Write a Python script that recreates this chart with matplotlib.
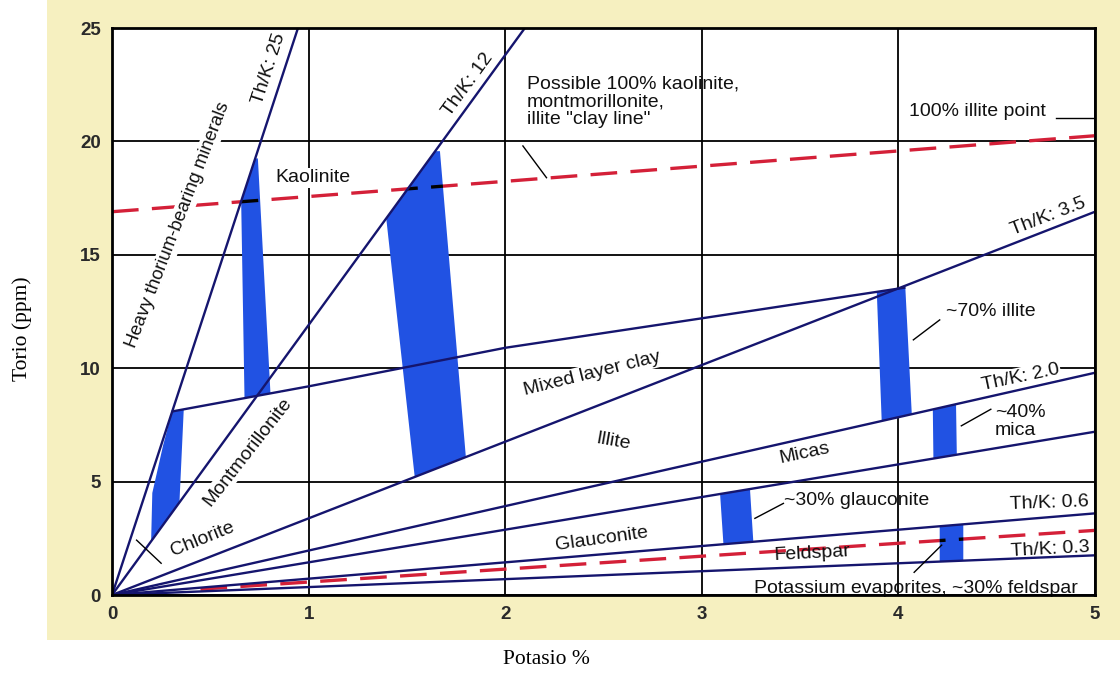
import matplotlib
matplotlib.use('Agg')
import matplotlib.pyplot as plt
from matplotlib.patches import Polygon, Rectangle

plt.rcParams['font.family'] = ['Liberation Sans', 'DejaVu Sans']

# ---------------- data ----------------
x_ticks = [0, 1, 2, 3, 4, 5]
y_ticks = [0, 5, 10, 15, 20, 25]

# Th/K ratio lines from the origin, given by their end points
ratio_end_x = [0.946, 2.10, 5.0, 5.0, 5.0, 5.0, 5.0]
ratio_end_y = [25.0, 25.0, 16.9, 9.8, 7.2, 3.6, 1.75]

# mixed layer clay boundary
mixed_x = [0.31, 1.0, 2.0, 3.0, 4.03]
mixed_y = [8.1, 9.2, 10.9, 12.2, 13.55]

# red dashed lines
clay_line_x = [0.0, 5.0]
clay_line_y = [16.9, 20.25]
feldspar_line_x = [0.45, 5.0]
feldspar_line_y = [0.26, 2.85]

# blue bands
chlorite_x = [0.199, 0.205, 0.26, 0.306, 0.365, 0.343]
chlorite_y = [2.37, 4.5, 6.6, 8.1, 8.19, 4.08]
kaolinite_a_x = [0.657, 0.728, 0.742, 0.806, 0.674]
kaolinite_a_y = [17.36, 19.25, 19.25, 8.89, 8.68]
kaolinite_b_x = [1.395, 1.645, 1.668, 1.80, 1.54]
kaolinite_b_y = [16.6, 19.57, 19.57, 6.07, 5.19]
illite_x = [3.89, 4.035, 4.068, 3.915]
illite_y = [13.37, 13.57, 7.97, 7.67]
mica_x = [4.175, 4.293, 4.297, 4.178]
mica_y = [8.18, 8.41, 6.19, 6.02]
glauconite_x = [3.093, 3.245, 3.262, 3.11]
glauconite_y = [4.45, 4.67, 2.35, 2.24]
feldspar_x = [4.21, 4.33, 4.33, 4.21]
feldspar_y = [3.03, 3.12, 1.52, 1.47]

# leader lines (x0, x1), (y0, y1)
leader_x = [(2.09, 2.21), (4.80, 5.0), (4.076, 4.21), (4.32, 4.47), (3.27, 3.415), (4.22, 4.08), (0.125, 0.25)]
leader_y = [(19.8, 18.4), (21.05, 21.05), (11.25, 12.13), (7.46, 8.19), (3.38, 4.04), (2.2, 1.0), (2.42, 1.4)]

# ---------------- figure ----------------
NAVY = '#15156e'
BLUE = '#2152e3'
RED = '#d42038'

fig = plt.figure(figsize=(11.2, 6.75), dpi=100)
bg = Rectangle((0.042, 0.052), 0.958, 0.948, transform=fig.transFigure,
               facecolor='#f6f0c0', edgecolor='none', zorder=-10)
fig.patches.append(bg)
ax = fig.add_axes([0.1, 0.1185, 0.8777, 0.84])
ax.set_zorder(1)
ax.set_facecolor('white')
ax.set_xlim(0, 5)
ax.set_ylim(0, 25)
ax.set_xticks(x_ticks)
ax.set_yticks(y_ticks)
ax.tick_params(length=0, labelsize=13.5, pad=8)
for lab in ax.get_xticklabels() + ax.get_yticklabels():
    lab.set_fontweight('bold')
    lab.set_color('#2a2a2a')
ax.grid(True, color='black', lw=1.3, zorder=1)
ax.set_axisbelow(True)
for s in ax.spines.values():
    s.set_linewidth(2)
    s.set_color('black')
    s.set_zorder(10)

# red dashed lines (under bands)
dash = (0, (8, 4))
ax.plot(clay_line_x, clay_line_y, color=RED, lw=2.4, ls=dash, zorder=2)
ax.plot(feldspar_line_x, feldspar_line_y, color=RED, lw=2.4, ls=dash, zorder=2)

bands = [(chlorite_x, chlorite_y), (kaolinite_a_x, kaolinite_a_y), (kaolinite_b_x, kaolinite_b_y),
         (illite_x, illite_y), (mica_x, mica_y), (glauconite_x, glauconite_y), (feldspar_x, feldspar_y)]
for bx, by in bands:
    p = Polygon(list(zip(bx, by)), closed=True, facecolor=BLUE, edgecolor='none', zorder=3)
    ax.add_patch(p)
    for lx, ly in [(clay_line_x, clay_line_y), (feldspar_line_x, feldspar_line_y)]:
        ln, = ax.plot(lx, ly, color='black', lw=2.4, ls=dash, zorder=4)
        ln.set_clip_path(p)

# ratio lines
for ex, ey in zip(ratio_end_x, ratio_end_y):
    ax.plot([0, ex], [0, ey], color=NAVY, lw=1.7, zorder=5, solid_capstyle='butt')
ax.plot(mixed_x, mixed_y, color=NAVY, lw=1.7, zorder=5)

for lx, ly in zip(leader_x, leader_y):
    ax.plot(lx, ly, color='black', lw=1.0, zorder=5)

# labels
FS = 14
wb = dict(facecolor='white', edgecolor='none', pad=1.0)
texts = [
    (0.335, 16.3, 'Heavy thorium-bearing minerals', 69, wb, 'center', 13.3),
    (0.80, 23.2, 'Th/K: 25', 72, None, 'center', FS),
    (1.81, 22.5, 'Th/K: 12', 54, None, 'center', FS),
    (1.02, 18.4, 'Kaolinite', 0, wb, 'center', FS),
    (0.69, 6.3, 'Montmorillonite', 52, wb, 'center', FS),
    (0.46, 2.45, 'Chlorite', 22, None, 'center', FS),
    (2.44, 9.75, 'Mixed layer clay', 14, wb, 'center', FS),
    (2.55, 6.75, 'Illite', -10, None, 'center', FS),
    (3.52, 6.25, 'Micas', 12, None, 'center', FS),
    (2.49, 2.45, 'Glauconite', 8, None, 'center', FS),
    (3.56, 1.85, 'Feldspar', 3, None, 'center', FS),
    (4.76, 16.7, 'Th/K: 3.5', 21, None, 'center', FS),
    (4.62, 9.6, 'Th/K: 2.0', 12, wb, 'center', FS),
    (4.77, 4.05, 'Th/K: 0.6', 2, None, 'center', FS),
    (4.77, 2.0, 'Th/K: 0.3', 3, None, 'center', FS),
    (4.24, 12.5, '~70% illite', 0, None, 'left', FS),
    (4.49, 7.65, '~40%\nmica', 0, None, 'left', FS),
    (3.42, 4.15, '~30% glauconite', 0, None, 'left', FS),
    (4.09, 0.3, 'Potassium evaporites, ~30% feldspar', 0, None, 'center', FS),
    (4.40, 21.3, '100% illite point', 0, None, 'center', FS),
    (2.11, 21.75, 'Possible 100% kaolinite,\nmontmorillonite,\nillite "clay line"', 0, None, 'left', FS),
]
for tx, ty, s, rot, bb, ha, fs in texts:
    ax.text(tx, ty, s, rotation=rot, ha=ha, va='center', fontsize=fs, color='#111111',
            rotation_mode='anchor', bbox=bb, zorder=6, linespacing=1.05)

fig.text(22 / 1120, 1 - 329 / 675, 'Torio (ppm)', rotation=90, ha='center', va='center',
         fontsize=15.5, family=['Liberation Serif', 'DejaVu Serif'])
fig.text(546 / 1120, 1 - 660 / 675, 'Potasio %', ha='center', va='center',
         fontsize=15.5, family=['Liberation Serif', 'DejaVu Serif'])

fig.savefig('out.png', dpi=100)
